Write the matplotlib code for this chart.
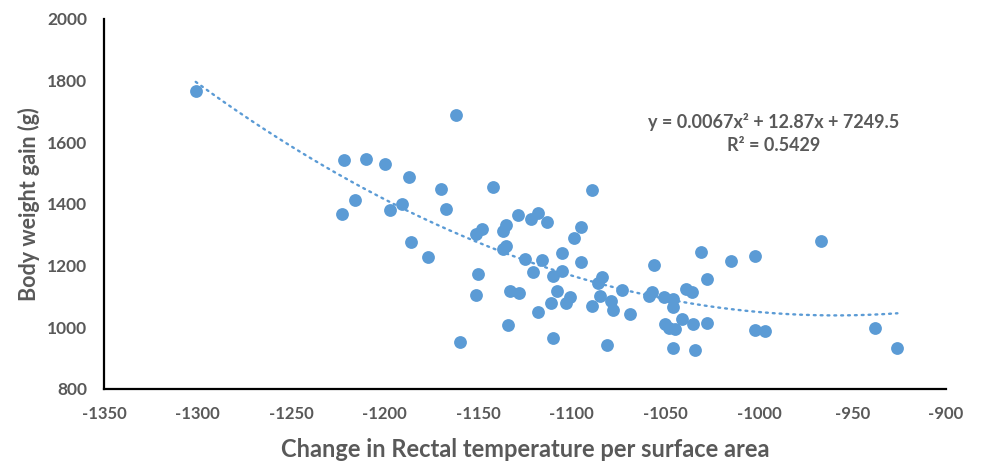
import numpy as np
import matplotlib
matplotlib.use("Agg")
import matplotlib.pyplot as plt

# values
temp_change = [-1301, -1222, -1210, -1200, -1187, -1216, -1191, -1197, -1223, -1186,
               -1177, -1170, -1162, -1142, -1089, -1167, -1129, -1122, -1118, -1113,
               -1095, -1148, -1151, -1135, -1137, -1099, -1135, -1137, -1105, -1125,
               -1116, -1095, -1056, -1121, -1150, -1105, -1110, -1084, -1086, -1073,
               -1057, -1059, -1133, -1128, -1108, -1151, -1085, -1079, -1101, -1103,
               -1111, -1089, -1078, -1069, -1051, -1046, -1046, -1039, -1118, -1134,
               -1041, -1050, -1048, -1045, -1110, -1160, -1081, -1046, -1034, -967,
               -1031, -1002, -1015, -1028, -1036, -1035, -1028, -1002, -997, -938, -926]
weight_gain = [1766, 1542, 1546, 1529, 1487, 1412, 1399, 1380, 1368, 1277,
               1228, 1448, 1689, 1455, 1444, 1383, 1363, 1351, 1372, 1341,
               1326, 1320, 1303, 1332, 1313, 1290, 1265, 1254, 1242, 1221,
               1218, 1213, 1202, 1180, 1174, 1183, 1167, 1163, 1145, 1120,
               1115, 1103, 1118, 1110, 1118, 1105, 1102, 1086, 1099, 1078,
               1078, 1070, 1057, 1043, 1098, 1092, 1067, 1124, 1051, 1008,
               1027, 1010, 997, 994, 964, 952, 943, 932, 926, 1281,
               1245, 1231, 1214, 1157, 1114, 1011, 1015, 992, 989, 998, 934]

x = np.array(temp_change, dtype=float)
y = np.array(weight_gain, dtype=float)

blue = '#5B9BD5'
grey = '#595959'
plt.rcParams['font.family'] = ['Lato', 'DejaVu Sans']
plt.rcParams['axes.unicode_minus'] = False

fig = plt.figure(figsize=(9.86, 4.63), dpi=100)
ax = fig.add_axes([0.1055, 0.16, 0.854, 0.799])

ax.scatter(x, y, s=85, color=blue, zorder=3, linewidths=0)

# 2nd order polynomial trendline
coef = np.polyfit(x, y, 2)
xs = np.linspace(x.min(), x.max(), 200)
ax.plot(xs, np.polyval(coef, xs), color=blue, lw=1.7, linestyle=(0, (0.8, 2.1)),
        dash_capstyle='round', zorder=2)

ax.text(-992, 1666, 'y = 0.0067x² + 12.87x + 7249.5', ha='center', va='center',
        fontsize=13, fontweight='bold', color=grey)
ax.text(-992, 1591, 'R² = 0.5429', ha='center', va='center',
        fontsize=13, fontweight='bold', color=grey)

ax.set_xlim(-1350, -900)
ax.set_ylim(800, 2000)
ax.set_xticks(np.arange(-1350, -899, 50))
ax.set_yticks(np.arange(800, 2001, 200))
for s in ['top', 'right']:
    ax.spines[s].set_visible(False)
for s in ['left', 'bottom']:
    ax.spines[s].set_linewidth(1.6)
    ax.spines[s].set_color('black')
ax.tick_params(length=0, pad=12, labelcolor=grey)
ax.tick_params(axis='y', labelsize=12.5)
ax.tick_params(axis='x', labelsize=12)
for lab in ax.get_xticklabels() + ax.get_yticklabels():
    lab.set_fontweight('bold')

ax.set_xlabel('Change in Rectal temperature per surface area', fontsize=17,
              fontweight='bold', color=grey, labelpad=12)
ax.set_ylabel('Body weight gain (g)', fontsize=15.5, fontweight='bold', color=grey,
              labelpad=5)

fig.savefig('out.png', dpi=100)
